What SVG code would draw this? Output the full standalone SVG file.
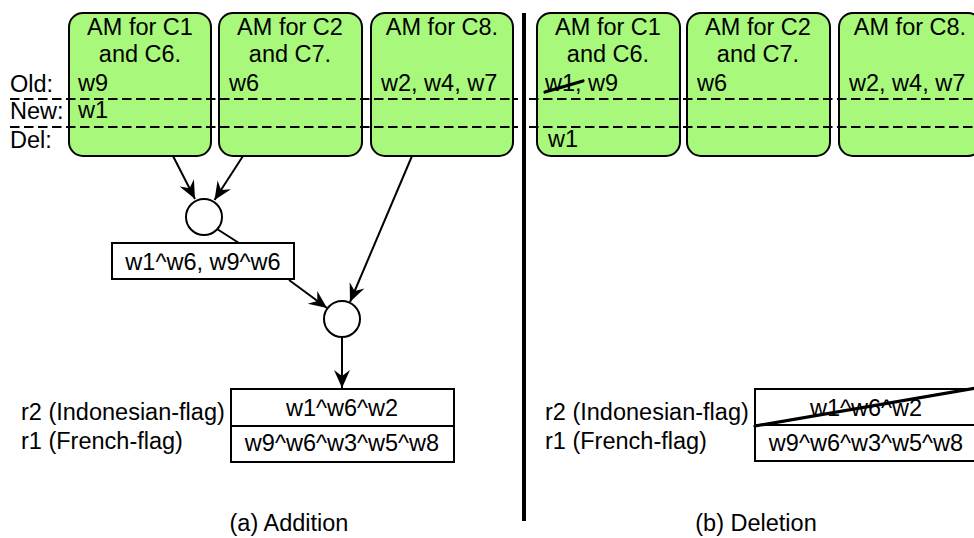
<svg xmlns="http://www.w3.org/2000/svg" width="974" height="538" viewBox="0 0 974 538">
  <style>
    text { font-family: "Liberation Sans", Arial, Helvetica, sans-serif; font-size: 23.5px; fill: #000; }
    .mid { text-anchor: middle; }
    .am { fill: #a8f87b; stroke: #000; stroke-width: 2; }
    .plain { fill: #fff; stroke: #000; stroke-width: 2; }
    .edge { fill: none; stroke: #000; stroke-width: 2; }
    .dash { fill: none; stroke: #000; stroke-width: 1.8; stroke-dasharray: 9.5 4.5; }
    .strike { fill: none; stroke: #000; stroke-width: 3.2; stroke-linecap: round; }
  </style>
  <defs>
    <marker id="arrow" viewBox="-20 -10 22 20" markerWidth="22" markerHeight="20" refX="0" refY="0" orient="auto" markerUnits="userSpaceOnUse">
      <path d="M0,0 L-18,-8 L-12,0 L-18,8 Z" fill="#000"/>
    </marker>
  </defs>

  <rect width="974" height="538" fill="#fff"/>

  <!-- (a) Addition -->
  <g id="am-c1-c6-a">
    <rect class="am" x="69" y="13" width="142" height="143" rx="14"/>
    <text class="mid" x="140" y="35">AM for C1</text>
    <text class="mid" x="140" y="62">and C6.</text>
    <text x="78" y="91">w9</text>
    <text x="78" y="118">w1</text>
  </g>
  <g id="am-c2-c7-a">
    <rect class="am" x="219" y="13" width="143" height="143" rx="14"/>
    <text class="mid" x="290" y="35">AM for C2</text>
    <text class="mid" x="290" y="62">and C7.</text>
    <text x="229" y="91">w6</text>
  </g>
  <g id="am-c8-a">
    <rect class="am" x="371" y="13" width="142" height="143" rx="14"/>
    <text class="mid" x="442" y="35">AM for C8.</text>
    <text x="381" y="91">w2, w4, w7</text>
  </g>

  <g id="row-labels">
    <text x="10" y="92">Old:</text>
    <text x="10" y="119">New:</text>
    <text x="10" y="148">Del:</text>
  </g>

  <g id="join-1">
    <circle class="plain" cx="204" cy="217" r="18"/>
  </g>
  <g id="partial-result">
    <rect class="plain" x="112" y="243" width="182" height="36"/>
    <text class="mid" x="203" y="270">w1^w6, w9^w6</text>
  </g>
  <g id="join-2">
    <circle class="plain" cx="342" cy="319" r="18"/>
  </g>

  <g id="rule-table-a">
    <rect class="plain" x="231" y="389" width="223" height="73"/>
    <line class="edge" x1="231" y1="426" x2="454" y2="426"/>
    <text class="mid" x="342" y="416">w1^w6^w2</text>
    <text class="mid" x="342" y="451">w9^w6^w3^w5^w8</text>
    <text x="21" y="420">r2 (Indonesian-flag)</text>
    <text x="21" y="449">r1 (French-flag)</text>
  </g>

  <g id="connectors">
    <line class="edge" x1="173" y1="156" x2="195" y2="199" marker-end="url(#arrow)"/>
    <line class="edge" x1="243" y1="156" x2="214.5" y2="200" marker-end="url(#arrow)"/>
    <line class="edge" x1="217" y1="229" x2="239" y2="243"/>
    <line class="edge" x1="289" y1="280" x2="327" y2="308" marker-end="url(#arrow)"/>
    <line class="edge" x1="412" y1="156" x2="350" y2="302" marker-end="url(#arrow)"/>
    <line class="edge" x1="342" y1="337" x2="342" y2="388" marker-end="url(#arrow)"/>
  </g>

  <text class="mid" x="289" y="531">(a) Addition</text>

  <!-- panel separator -->
  <line x1="524" y1="13" x2="524" y2="521" stroke="#000" stroke-width="4"/>

  <!-- (b) Deletion -->
  <g id="am-c1-c6-b">
    <rect class="am" x="537" y="13" width="143" height="143" rx="14"/>
    <text class="mid" x="608" y="35">AM for C1</text>
    <text class="mid" x="608" y="62">and C6.</text>
    <text x="545" y="91">w1, w9</text>
    <line class="strike" x1="545" y1="92" x2="583" y2="81"/>
    <text x="548" y="147">w1</text>
  </g>
  <g id="am-c2-c7-b">
    <rect class="am" x="687" y="13" width="143" height="143" rx="14"/>
    <text class="mid" x="758" y="35">AM for C2</text>
    <text class="mid" x="758" y="62">and C7.</text>
    <text x="697" y="91">w6</text>
  </g>
  <g id="am-c8-b">
    <rect class="am" x="839" y="13" width="143" height="143" rx="14"/>
    <text class="mid" x="910" y="35">AM for C8.</text>
    <text x="849" y="91">w2, w4, w7</text>
  </g>

  <g id="rule-table-b">
    <rect class="plain" x="755" y="389" width="224" height="72"/>
    <line class="edge" x1="755" y1="425" x2="979" y2="425"/>
    <text class="mid" x="866" y="416">w1^w6^w2</text>
    <text class="mid" x="866" y="451">w9^w6^w3^w5^w8</text>
    <line class="strike" x1="755" y1="426" x2="976" y2="388" stroke-linecap="butt"/>
    <text x="545" y="420">r2 (Indonesian-flag)</text>
    <text x="545" y="449">r1 (French-flag)</text>
  </g>

  <text class="mid" x="756" y="531">(b) Deletion</text>

  <!-- Old / New / Del row dividers, drawn over the AM boxes -->
  <g id="row-dividers">
    <line class="dash" x1="10" y1="99" x2="518" y2="99"/>
    <line class="dash" x1="10" y1="127" x2="518" y2="127"/>
    <line class="dash" x1="529" y1="99" x2="974" y2="99"/>
    <line class="dash" x1="529" y1="127" x2="974" y2="127"/>
  </g>
</svg>
